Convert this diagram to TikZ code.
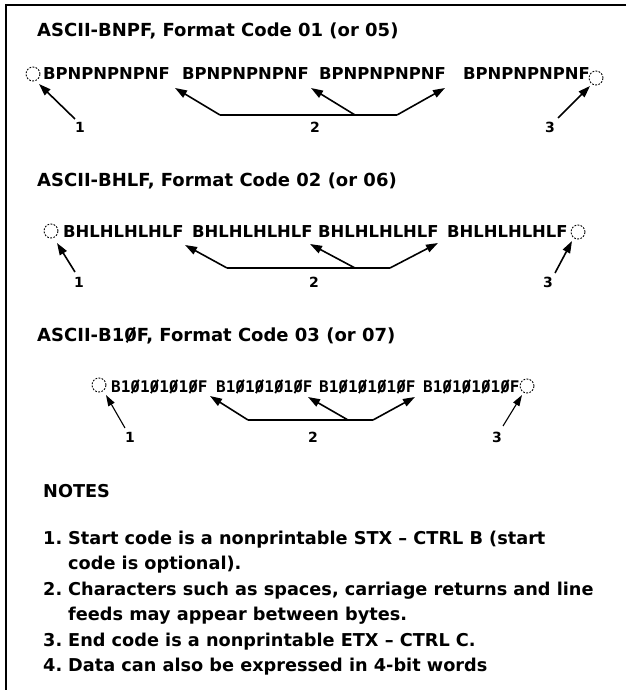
\documentclass[tikz,border=0pt]{standalone}
\usepackage{fontspec}
\setmainfont{DejaVu Sans}
\newfontfamily\dmono{DejaVu Sans Mono}
\usetikzlibrary{arrows.meta}
\newcommand\zs{{\ooalign{0\cr\hidewidth\raisebox{-.1em}{\rotatebox{62}{\rule{.95em}{.11em}}}\hidewidth\cr}}}
\begin{document}
\begin{tikzpicture}[x=1pt,y=-1pt,
  title/.style={anchor=base west,inner sep=0pt,font=\fontsize{18}{21}\selectfont\bfseries},
  data/.style={anchor=base west,inner sep=0pt,font=\fontsize{16.4}{19}\selectfont\bfseries},
  mdata/.style={anchor=base west,inner sep=0pt,font=\dmono\fontsize{16}{19}\selectfont\bfseries},
  lab/.style={anchor=base,inner sep=0pt,font=\fontsize{14}{16}\selectfont\bfseries},
  note/.style={anchor=base west,inner sep=0pt,font=\fontsize{17.7}{20}\selectfont\bfseries},
  ring/.style={draw,circle,dash pattern=on 1.8pt off 1.4pt,line width=0.9pt,minimum size=14pt,inner sep=0pt},
  arr/.style={-{Triangle[length=12pt,width=8pt]},line width=1.6pt},
  tarr/.style={-{Triangle[length=11pt,width=7pt]},line width=1.1pt},
  bar/.style={line width=1.5pt},
  frame/.style={line width=2pt}]
\useasboundingbox (0,0) rectangle (626,700);
% frame
\coordinate (fa) at (626,5);
\coordinate (fb) at (6,5);
\coordinate (fc) at (6,690);
\draw[frame] (fa) -- (fb) -- (fc);

% ---------- Row 1 ----------
\node[title] (t1) at (37,37) {ASCII-BNPF, Format Code 01 (or 05)};
\node[data] (w11) at (43,80) {BPNPNPNPNF};
\node[data] (w12) at (182,80) {BPNPNPNPNF};
\node[data] (w13) at (319,80) {BPNPNPNPNF};
\node[data] (w14) at (463,80) {BPNPNPNPNF};
\node[ring] (c11) at (33,74) {};
\node[ring] (c12) at (596,78) {};
\node[lab] (l11) at (80,133) {1};
\node[lab] (l12) at (315,133) {2};
\node[lab] (l13) at (550,133) {3};
\coordinate (a11) at (75,119);
\coordinate (e11) at (39,84);
\coordinate (j11) at (220,115);
\coordinate (j12) at (397,115);
\coordinate (j13) at (355,115);
\coordinate (e12) at (175,88);
\coordinate (e13) at (311,88);
\coordinate (e14) at (445,88);
\coordinate (a13) at (558,118);
\coordinate (e15) at (590,86);
\draw[arr] (a11) -- (e11);
\draw[bar] (j11) -- (j12);
\draw[arr] (j11) -- (e12);
\draw[arr] (j13) -- (e13);
\draw[arr] (j12) -- (e14);
\draw[arr] (a13) -- (e15);

% ---------- Row 2 ----------
\node[title] (t2) at (37,187) {ASCII-BHLF, Format Code 02 (or 06)};
\node[data] (w21) at (63,237) {BHLHLHLHLF};
\node[data] (w22) at (192,237) {BHLHLHLHLF};
\node[data] (w23) at (318,237) {BHLHLHLHLF};
\node[data] (w24) at (447,237) {BHLHLHLHLF};
\node[ring] (c21) at (51,231) {};
\node[ring] (c22) at (578,232) {};
\node[lab] (l21) at (79,287) {1};
\node[lab] (l22) at (314,287) {2};
\node[lab] (l23) at (548,287) {3};
\coordinate (a21) at (75,272);
\coordinate (e21) at (57,243);
\coordinate (j21) at (227,268);
\coordinate (j22) at (390,268);
\coordinate (j23) at (355,268);
\coordinate (e22) at (185,245);
\coordinate (e23) at (310,244);
\coordinate (e24) at (438,243);
\coordinate (a23) at (555,273);
\coordinate (e25) at (572,241);
\draw[arr] (a21) -- (e21);
\draw[bar] (j21) -- (j22);
\draw[arr] (j21) -- (e22);
\draw[arr] (j23) -- (e23);
\draw[arr] (j22) -- (e24);
\draw[arr] (a23) -- (e25);

% ---------- Row 3 ----------
\node[title] (t3) at (37,341) {ASCII-B1\zs F, Format Code 03 (or 07)};
\node[mdata] (w31) at (111,392) {B1\zs1\zs1\zs1\zs F};
\node[mdata] (w32) at (216,392) {B1\zs1\zs1\zs1\zs F};
\node[mdata] (w33) at (319,392) {B1\zs1\zs1\zs1\zs F};
\node[mdata] (w34) at (423,392) {B1\zs1\zs1\zs1\zs F};
\node[ring] (c31) at (99,385) {};
\node[ring] (c32) at (527,386) {};
\node[lab] (l31) at (130,442) {1};
\node[lab] (l32) at (313,442) {2};
\node[lab] (l33) at (497,442) {3};
\coordinate (a31) at (125,428);
\coordinate (e31) at (106,395);
\coordinate (j31) at (248,420);
\coordinate (j32) at (373,420);
\coordinate (j33) at (348,420);
\coordinate (e32) at (210,396);
\coordinate (e33) at (308,397);
\coordinate (e34) at (415,397);
\coordinate (a33) at (503,426);
\coordinate (e35) at (522,395);
\draw[tarr] (a31) -- (e31);
\draw[bar] (j31) -- (j32);
\draw[arr] (j31) -- (e32);
\draw[arr] (j33) -- (e33);
\draw[arr] (j32) -- (e34);
\draw[tarr] (a33) -- (e35);

% ---------- Notes ----------
\node[note] (nh) at (43,497) {NOTES};
\node[note] (n1) at (43,544) {1.};
\node[note] (n1a) at (68,544) {Start code is a nonprintable STX -- CTRL B (start};
\node[note] (n1b) at (68,569.5) {code is optional).};
\node[note] (n2) at (43,595) {2.};
\node[note] (n2a) at (68,595) {Characters such as spaces, carriage returns and line};
\node[note] (n2b) at (68,620.5) {feeds may appear between bytes.};
\node[note] (n3) at (43,646) {3.};
\node[note] (n3a) at (68,646) {End code is a nonprintable ETX -- CTRL C.};
\node[note] (n4) at (43,671.5) {4.};
\node[note] (n4a) at (68,671.5) {Data can also be expressed in 4-bit words};
\end{tikzpicture}
\end{document}
